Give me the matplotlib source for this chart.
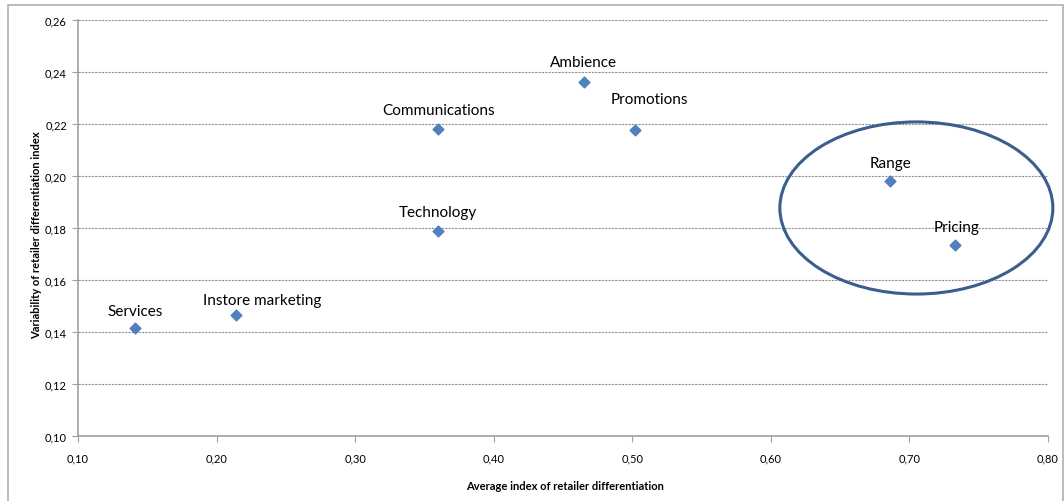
import matplotlib
matplotlib.use("Agg")
import matplotlib.pyplot as plt
from matplotlib.patches import Ellipse, Rectangle

labels = ["Services", "Instore marketing", "Communications", "Technology",
          "Ambience", "Promotions", "Range", "Pricing"]
avg_index = [0.141, 0.214, 0.360, 0.360, 0.465, 0.502, 0.686, 0.733]
variability = [0.1415, 0.1465, 0.218, 0.179, 0.236, 0.2177, 0.198, 0.1735]
label_offsets = [(0, 7), (19, 6), (0, 9), (0, 8), (0, 10), (10, 17), (0, 8), (1, 8)]
x_ticks = [0.10, 0.20, 0.30, 0.40, 0.50, 0.60, 0.70, 0.80]
y_ticks = [0.10, 0.12, 0.14, 0.16, 0.18, 0.20, 0.22, 0.24, 0.26]

plt.rcParams['font.family'] = ['Lato', 'DejaVu Sans']

fig = plt.figure(figsize=(10.64, 5.02), dpi=100)
ax = fig.add_axes([78/1064, 65/502, 970/1064, 416/502])

ax.scatter(avg_index, variability, marker='D', s=30, color='#4F81BD', zorder=3)
for lab, x, y, (dx, dy) in zip(labels, avg_index, variability, label_offsets):
    ax.annotate(lab, (x, y), xytext=(dx, dy), textcoords='offset points',
                ha='center', va='bottom', fontsize=11, color='black')

ax.set_xlim(0.10, 0.80)
ax.set_ylim(0.10, 0.26)
ax.set_xticks(x_ticks)
ax.set_yticks(y_ticks)
ax.set_xticklabels([f"{v:.2f}".replace('.', ',') for v in x_ticks], fontsize=8)
ax.set_yticklabels([f"{v:.2f}".replace('.', ',') for v in y_ticks], fontsize=8)
ax.tick_params(axis='x', length=4, color='#A0A0A0', pad=8)
ax.tick_params(axis='y', length=4, color='#A0A0A0', pad=4)
for s in ['top', 'right']:
    ax.spines[s].set_visible(False)
for s in ['left', 'bottom']:
    ax.spines[s].set_color('#A0A0A0')
    ax.spines[s].set_linewidth(1.2)
ax.yaxis.grid(True, linestyle=(0, (2, 1)), color='#909090', linewidth=0.8)
ax.set_axisbelow(True)

ell = Ellipse((0.705, 0.1877), width=0.197, height=0.0662, fill=False,
              edgecolor='#3B5E8C', linewidth=2.2, clip_on=False, zorder=4)
ax.add_patch(ell)

fig.text(565/1064, 1 - 487/502, "Average index of retailer differentiation",
         ha='center', va='center', fontsize=8, fontweight='bold')
fig.text(37/1064, 1 - 235/502, "Variability of retailer differentiation index",
         ha='center', va='center', rotation=90, fontsize=8, fontweight='bold')

fig.patches.append(Rectangle((8/1064, -0.01), 1055/1064, 1 - 6/502 + 0.01,
                             transform=fig.transFigure, fill=False,
                             edgecolor='#B0B0B0', linewidth=1.2))

fig.savefig("out.png", dpi=100)
